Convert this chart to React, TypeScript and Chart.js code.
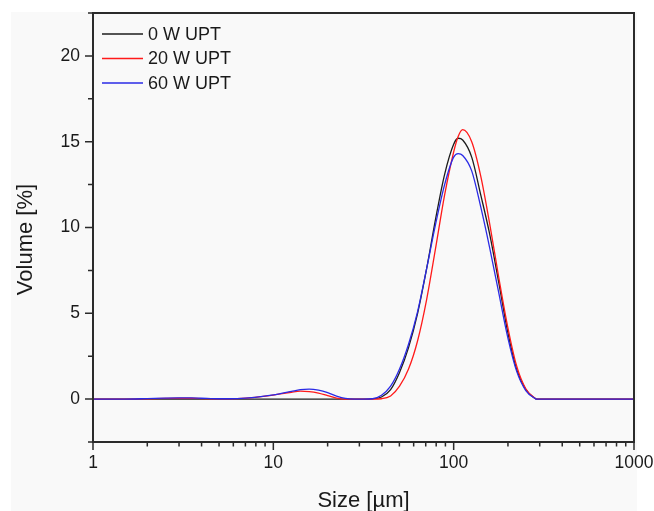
import React, { useEffect, useRef } from "react";
import { Chart, registerables } from "chart.js";

Chart.register(...registerables);

// ---- data ----
const sizes = [
  1, 1.5, 2, 2.5, 3, 3.5, 4, 5, 6.3, 7.9,
  10, 12.6, 14.1, 15.8, 17.8, 20, 22.4, 25.1, 28.2, 31.6,
  35.5, 39.8, 44.7, 50.1, 56.2, 63.1, 70.8, 79.4, 89.1, 100,
  105.9, 112.2, 125.9, 141.3, 158.5, 177.8, 199.5, 223.9, 251.2, 281.8,
  288.4, 316.2, 1000,
];

const volume0W = [
  0, 0, 0, 0, 0, 0, 0, 0, 0, 0,
  0, 0, 0, 0, 0, 0, 0, 0, 0, 0,
  0.01, 0.12, 0.55, 1.55, 3.0, 5.0, 7.6, 10.5, 13.1, 14.85,
  15.2, 15.1, 14.1, 11.9, 9.6, 6.8, 3.9, 1.7, 0.55, 0.05,
  0, 0, 0,
];

const volume20W = [
  0, 0, 0.02, 0.04, 0.05, 0.05, 0.03, 0.01, 0.03, 0.1,
  0.23, 0.4, 0.46, 0.44, 0.35, 0.2, 0.06, 0, 0, 0,
  0, 0.02, 0.18, 0.75, 1.75, 3.4, 5.8, 8.8, 11.9, 14.4,
  15.3, 15.7, 15.0, 13.0, 10.2, 7.1, 4.2, 1.9, 0.6, 0.06,
  0, 0, 0,
];

const volume60W = [
  0, 0, 0.03, 0.06, 0.07, 0.07, 0.05, 0.02, 0.03, 0.1,
  0.24, 0.45, 0.55, 0.58, 0.52, 0.38, 0.18, 0.04, 0, 0,
  0.02, 0.22, 0.75, 1.75, 3.2, 5.1, 7.6, 10.2, 12.5, 14.1,
  14.3, 14.2, 13.3, 11.2, 8.8, 6.2, 3.6, 1.6, 0.5, 0.05,
  0, 0, 0,
];

const seriesLabels = ["0 W UPT", "20 W UPT", "60 W UPT"];
const seriesColors = ["#1c1c1c", "#ff1a1a", "#2a2ae6"];

const xLabelTicks = [1, 10, 100, 1000];
const xMinorMultipliers = [2, 3, 4, 5, 6, 7, 8, 9];
const yLabelTicks = [0, 5, 10, 15, 20];
const yAllTicks = [-2.5, 0, 2.5, 5, 7.5, 10, 12.5, 15, 17.5, 20, 22.5];

const xTitle = "Size [µm]";
const yTitle = "Volume [%]";

const FONT = "'Liberation Sans', Arial, sans-serif";
const TEXT = "#1a1a1a";

const decorPlugin = {
  id: "decor",
  afterDatasetsDraw(chart: any) {
    const { ctx, chartArea: a, scales } = chart;
    const xs = scales.x;
    const ys = scales.y;
    ctx.save();
    // frame
    ctx.strokeStyle = "#2b2b2b";
    ctx.lineWidth = 2;
    ctx.strokeRect(a.left, a.top, a.right - a.left, a.bottom - a.top);
    // ticks
    ctx.lineWidth = 1.5;
    ctx.beginPath();
    xLabelTicks.forEach((d, i) => {
      const px = xs.getPixelForValue(d);
      ctx.moveTo(px, a.bottom);
      ctx.lineTo(px, a.bottom + 8);
      if (i < xLabelTicks.length - 1) {
        xMinorMultipliers.forEach((m) => {
          const pm = xs.getPixelForValue(d * m);
          ctx.moveTo(pm, a.bottom);
          ctx.lineTo(pm, a.bottom + 4.5);
        });
      }
    });
    yAllTicks.forEach((v) => {
      const py = ys.getPixelForValue(v);
      const len = yLabelTicks.includes(v) ? 8 : 5;
      ctx.moveTo(a.left, py);
      ctx.lineTo(a.left - len, py);
    });
    ctx.stroke();

    // legend
    ctx.font = `18px ${FONT}`;
    ctx.textAlign = "left";
    ctx.textBaseline = "middle";
    chart.data.datasets.forEach((ds: any, i: number) => {
      const ly = a.top + 21 + i * 24.5;
      ctx.strokeStyle = ds.borderColor;
      ctx.lineWidth = 1.3;
      ctx.beginPath();
      ctx.moveTo(a.left + 9, ly);
      ctx.lineTo(a.left + 50, ly);
      ctx.stroke();
      ctx.fillStyle = TEXT;
      ctx.fillText(ds.label, a.left + 55, ly + 1);
    });

    // axis titles
    ctx.fillStyle = TEXT;
    ctx.font = `22px ${FONT}`;
    ctx.textAlign = "center";
    ctx.textBaseline = "alphabetic";
    ctx.fillText(xTitle, (a.left + a.right) / 2, 507);
    ctx.translate(32, (a.top + a.bottom) / 2 + 12);
    ctx.rotate(-Math.PI / 2);
    ctx.fillText(yTitle, 0, 0);
    ctx.restore();
  },
};

export default function App() {
  const ref = useRef<HTMLCanvasElement | null>(null);

  useEffect(() => {
    document.body.style.margin = "0";
    const canvas = ref.current;
    if (!canvas) return;
    const all = [volume0W, volume20W, volume60W];
    const chart = new Chart(canvas, {
      type: "line",
      data: {
        datasets: all.map((vals, i) => ({
          label: seriesLabels[i],
          data: sizes.map((s, j) => ({ x: s, y: vals[j] })),
          borderColor: seriesColors[i],
          borderWidth: 1.3,
          pointRadius: 0,
          fill: false,
          cubicInterpolationMode: "monotone" as const,
          order: 3 - i,
        })),
      },
      options: {
        responsive: false,
        animation: false,
        devicePixelRatio: 1,
        layout: { padding: { top: 13, right: 20, left: 0, bottom: 0 } },
        plugins: {
          legend: { display: false },
          tooltip: { enabled: false },
        },
        scales: {
          x: {
            type: "logarithmic",
            min: 1,
            max: 1000,
            grid: { display: false, drawTicks: false },
            border: { display: false },
            afterBuildTicks: (s: any) => {
              s.ticks = xLabelTicks.map((v) => ({ value: v }));
            },
            afterFit: (s: any) => {
              s.height = 69;
              s.paddingLeft = 0;
              s.paddingRight = 0;
            },
            ticks: {
              autoSkip: false,
              maxRotation: 0,
              padding: 11,
              color: TEXT,
              font: { family: FONT, size: 17.5 },
              callback: (v: any) => String(v),
            },
          },
          y: {
            type: "linear",
            min: -2.5,
            max: 22.5,
            grid: { display: false, drawTicks: false },
            border: { display: false },
            afterBuildTicks: (s: any) => {
              s.ticks = yLabelTicks.map((v) => ({ value: v }));
            },
            afterFit: (s: any) => {
              s.width = 93;
              s.paddingTop = 0;
              s.paddingBottom = 0;
            },
            ticks: {
              padding: 13,
              color: TEXT,
              font: { family: FONT, size: 17.5 },
              callback: (v: any) => String(v),
            },
          },
        },
      },
      plugins: [decorPlugin],
    });
    return () => chart.destroy();
  }, []);

  return (
    <div style={{ position: "relative", width: 654, height: 511, background: "#ffffff" }}>
      <div
        style={{
          position: "absolute",
          left: 11,
          top: 12,
          width: 626,
          height: 499,
          background: "#f9f9f9",
        }}
      />
      <canvas
        ref={ref}
        width={654}
        height={511}
        style={{ position: "absolute", left: 0, top: 0, width: 654, height: 511 }}
      />
    </div>
  );
}
